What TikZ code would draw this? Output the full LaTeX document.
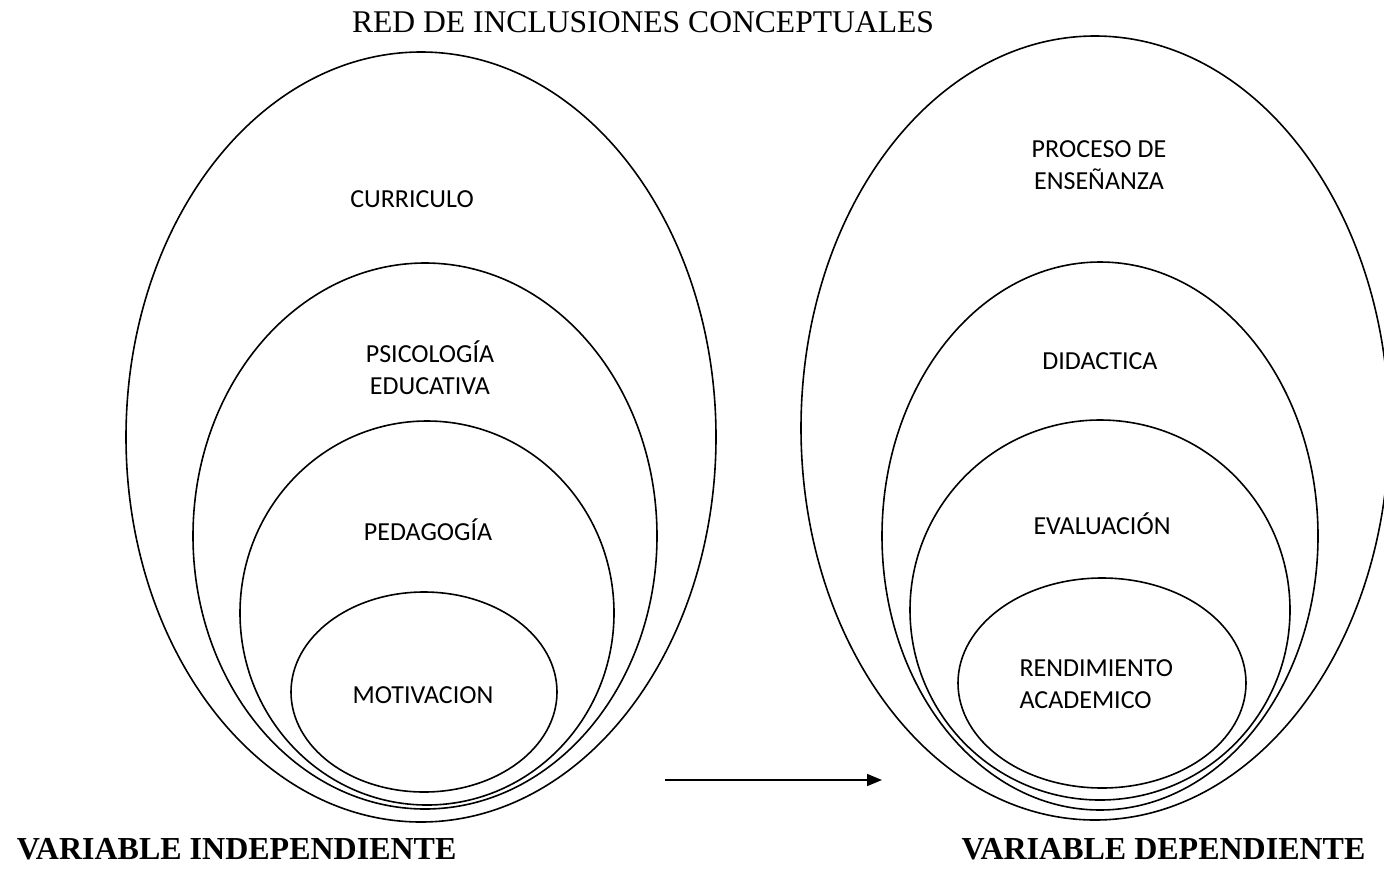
\documentclass[tikz,border=0pt]{standalone}
\usepackage{fontspec}
\setmainfont{Liberation Serif}
\newfontfamily\lblfont{Carlito}
\usetikzlibrary{arrows.meta}
\begin{document}
\begin{tikzpicture}[x=1pt,y=-1pt,
    ring/.style={line width=1.6pt},
    lbl/.style={font=\lblfont\fontsize{26}{32}\selectfont,align=center},
    varlbl/.style={font=\bfseries\fontsize{32}{36}\selectfont}]
  \useasboundingbox (0,0) rectangle (1384,868);
  \node[font=\fontsize{31.6}{36}\selectfont] (title) at (643,22) {RED DE INCLUSIONES CONCEPTUALES};
  % independiente
  \draw[ring] (421,437) ellipse [x radius=295,y radius=385];
  \draw[ring] (425,536) ellipse [x radius=232,y radius=273];
  \draw[ring] (427,613) ellipse [x radius=187,y radius=192];
  \draw[ring] (424,692) ellipse [x radius=133,y radius=100];
  \node[lbl] (curr) at (412,199) {CURRICULO};
  \node[lbl] (psico) at (430,368) {PSICOLOGÍA\\EDUCATIVA};
  \node[lbl] (peda) at (428,530) {PEDAGOGÍA};
  \node[lbl] (moti) at (423,695) {MOTIVACION};
  % dependiente
  \draw[ring] (1095,428) ellipse [x radius=294,y radius=392];
  \draw[ring] (1100,536) ellipse [x radius=218,y radius=274];
  \draw[ring] (1100,610) ellipse [x radius=190,y radius=190];
  \draw[ring] (1102,683) ellipse [x radius=144,y radius=105];
  \node[lbl] (proc) at (1099,165) {PROCESO DE\\ENSEÑANZA};
  \node[lbl] (dida) at (1100,361) {DIDACTICA};
  \node[lbl] (eval) at (1102,524) {EVALUACIÓN};
  \node[lbl,align=left,anchor=west] (rend) at (1016,684) {RENDIMIENTO\\ACADEMICO};
  % flecha
  \coordinate (a) at (665,780);
  \coordinate (b) at (882,780);
  \draw[line width=1.6pt,-{Triangle[length=15pt,width=12pt]}] (a) -- (b);
  \node[varlbl,anchor=base east] (indep) at (460,859) {VARIABLE INDEPENDIENTE};
  \node[varlbl,anchor=base east] (dep) at (1369,859) {VARIABLE DEPENDIENTE};
\end{tikzpicture}
\end{document}
